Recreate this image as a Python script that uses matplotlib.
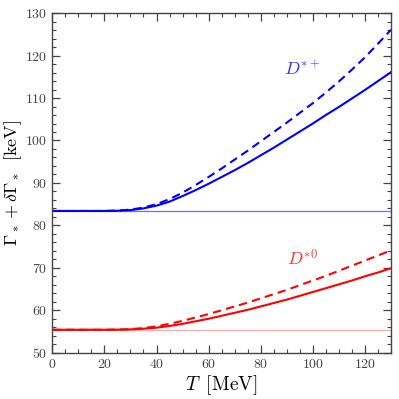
import matplotlib
matplotlib.use("Agg")
import matplotlib.pyplot as plt
from matplotlib.ticker import MultipleLocator

plt.rcParams['font.family'] = 'serif'
plt.rcParams['font.serif'] = ['cmr10', 'DejaVu Serif']
plt.rcParams['mathtext.fontset'] = 'cm'
plt.rcParams['axes.formatter.use_mathtext'] = True

T = [0, 10, 20, 25, 30, 35, 40, 45, 50, 55, 60, 65, 70, 75, 80, 85, 90, 95, 100,
     105, 110, 115, 120, 125, 130]
dplus_solid = [83.4, 83.4, 83.4, 83.45, 83.6, 84.0, 84.65, 85.6, 86.9, 88.3, 89.8, 91.4, 93.0, 94.7,
               96.5, 98.3, 100.2, 102.1, 104.0, 106.0, 107.9, 109.9, 111.9, 114.0, 116.1]
dplus_dashed = [83.4, 83.4, 83.4, 83.5, 83.7, 84.2, 85.0, 86.2, 87.7, 89.5, 91.4, 93.4, 95.5, 97.6,
                99.8, 102.0, 104.2, 106.5, 108.8, 111.3, 113.9, 116.7, 119.6, 122.8, 126.1]
dzero_solid = [55.4, 55.4, 55.4, 55.42, 55.5, 55.65, 55.9, 56.3, 56.8, 57.4, 58.0, 58.7, 59.4, 60.1,
               60.9, 61.7, 62.5, 63.4, 64.3, 65.2, 66.1, 67.0, 68.0, 68.9, 69.9]
dzero_dashed = [55.4, 55.4, 55.4, 55.45, 55.55, 55.8, 56.2, 56.8, 57.5, 58.3, 59.1, 60.0, 60.9, 61.8,
                62.8, 63.8, 64.8, 65.9, 67.0, 68.1, 69.3, 70.5, 71.7, 72.9, 74.1]
dplus_vac = 83.4
dzero_vac = 55.4

fig = plt.figure(figsize=(3.99, 3.99), dpi=100)
ax = fig.add_axes([0.131, 0.116, 0.849, 0.851])

ax.axhline(dplus_vac, color='#7070ff', lw=0.9)
ax.axhline(dzero_vac, color='#ffaaaa', lw=0.9)
ax.plot(T, dplus_solid, color='#0000ff', lw=1.5)
ax.plot(T, dplus_dashed, color='#0000ff', lw=1.5, ls=(0, (4, 2.5)))
ax.plot(T, dzero_solid, color='#ff0000', lw=1.5)
ax.plot(T, dzero_dashed, color='#ff0000', lw=1.5, ls=(0, (4, 2.5)))

ax.text(96, 117, r'$D^{*+}$', color='#3333ff', fontsize=13, ha='center', va='center')
ax.text(96, 72.3, r'$D^{*0}$', color='#ff3333', fontsize=13, ha='center', va='center')

ax.set_xlim(0, 130)
ax.set_ylim(50, 130)
ax.xaxis.set_major_locator(MultipleLocator(20))
ax.xaxis.set_minor_locator(MultipleLocator(5))
ax.yaxis.set_major_locator(MultipleLocator(10))
ax.yaxis.set_minor_locator(MultipleLocator(2))
ax.tick_params(which='both', direction='in', top=True, right=True, colors='#444444',
               labelsize=10, labelcolor='#444444')
ax.tick_params(which='major', length=6, width=0.9)
ax.tick_params(which='minor', length=3, width=0.8)
for s in ax.spines.values():
    s.set_color('#444444')
    s.set_linewidth(1.0)

ax.set_xlabel(r'$T\;\;[\mathrm{MeV}]$', fontsize=14, labelpad=2)
ax.set_ylabel(r'$\Gamma_* + \delta\Gamma_*\;\;[\mathrm{keV}]$', fontsize=13, labelpad=1)

fig.savefig('out.png', dpi=100)
